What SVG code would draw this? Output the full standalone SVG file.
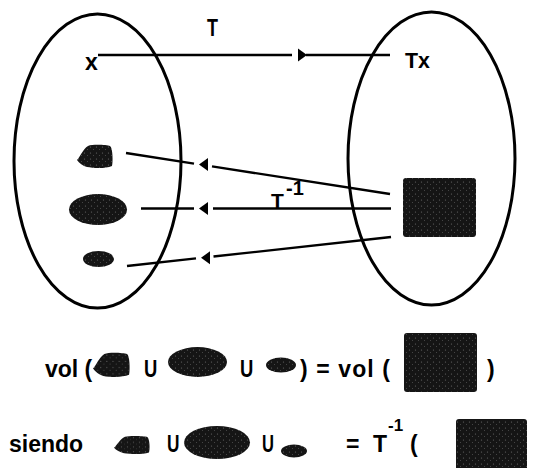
<svg xmlns="http://www.w3.org/2000/svg" xmlns:xlink="http://www.w3.org/1999/xlink" width="542" height="468" viewBox="0 0 542 468">
<style>
.set{fill:none;stroke:#000;stroke-width:3}
.ln{fill:none;stroke:#000;stroke-width:2.3}
.ah{fill:#000}
.t{font-family:"Liberation Sans",Arial,sans-serif;font-weight:bold;fill:#000}
.sh{fill:url(#speck)}
</style>
<defs>
<pattern id="speck" width="6" height="6" patternUnits="userSpaceOnUse">
<rect width="6" height="6" fill="#151515"/>
<circle cx="1.5" cy="2" r="0.6" fill="#6a6a6a"/>
<circle cx="4.5" cy="4.6" r="0.5" fill="#555"/>
</pattern>
<path id="blob" d="M11,1 C16,-1 30,0 33,1 C36,3 36,18 35,21 C28,24 16,23 10,22 C6,21 2,18 0,15 C3,12 6,4 11,1 Z"/>
</defs>
<rect width="542" height="468" fill="#fff"/>

<g id="setX"><ellipse class="set" cx="97.5" cy="161" rx="83.5" ry="147"/></g>
<g id="setY"><ellipse class="set" cx="431.5" cy="158.5" rx="83.5" ry="146.5"/></g>

<g id="label-x"><text class="t" x="85" y="70" font-size="23">x</text></g>
<g id="label-Tx"><text class="t" transform="translate(405,68) scale(0.93,1)" font-size="23">Tx</text></g>
<g id="label-T"><text class="t" transform="translate(207,36) scale(0.78,1)" font-size="23">T</text></g>
<g id="label-Tinv"><text class="t" x="271" y="208" font-size="21">T</text><text class="t" x="286" y="195" font-size="20">-1</text></g>

<g id="blob1"><use xlink:href="#blob" class="sh" transform="translate(77,145)"/></g>
<g id="blob2"><ellipse class="sh" cx="98" cy="209.5" rx="29" ry="15.5"/></g>
<g id="blob3"><ellipse class="sh" cx="98.5" cy="259" rx="15.5" ry="8"/></g>
<g id="square"><rect class="sh" x="403" y="178" width="73" height="59" rx="3"/></g>

<g id="connectors">
<line class="ln" x1="98" y1="55" x2="292" y2="55"/>
<polygon class="ah" points="298,48.5 307,55 298,61.5"/>
<line class="ln" x1="306" y1="55" x2="390" y2="55"/>

<line class="ln" x1="126" y1="153" x2="194" y2="163.6"/>
<polygon class="ah" points="199,164.5 208,158 208,171"/>
<line class="ln" x1="212" y1="166.4" x2="390" y2="194"/>

<line class="ln" x1="141" y1="208.5" x2="194" y2="208.5"/>
<polygon class="ah" points="199,208.5 208,202 208,215"/>
<line class="ln" x1="213" y1="208.5" x2="391" y2="208.5"/>

<line class="ln" x1="127" y1="266" x2="196" y2="258.4"/>
<polygon class="ah" points="201,257.8 210,251.3 210,264.3"/>
<line class="ln" x1="213.5" y1="256.5" x2="391" y2="237"/>
</g>

<g id="equation1">
<text class="t" x="45" y="377" font-size="23">vol (</text>
<use xlink:href="#blob" class="sh" transform="translate(93,353) scale(1.03,1.04)"/>
<text class="t" transform="translate(144,377) scale(0.8,1)" font-size="23">U</text>
<ellipse class="sh" cx="197.5" cy="362" rx="29.5" ry="15"/>
<text class="t" transform="translate(240,377) scale(0.8,1)" font-size="23">U</text>
<ellipse class="sh" cx="281" cy="365" rx="15" ry="7.5"/>
<text class="t" x="300" y="377" font-size="23" textLength="90" lengthAdjust="spacing">) = vol (</text>
<rect class="sh" x="404" y="333" width="73" height="59" rx="3"/>
<text class="t" x="487" y="377" font-size="23">)</text>
</g>

<g id="equation2">
<text class="t" x="9" y="452" font-size="23">siendo</text>
<use xlink:href="#blob" class="sh" transform="translate(114,436) scale(1,0.78)"/>
<text class="t" transform="translate(167,452) scale(0.75,1)" font-size="23">U</text>
<ellipse class="sh" cx="217" cy="442.5" rx="33" ry="16.5"/>
<text class="t" transform="translate(262,452) scale(0.72,1)" font-size="23">U</text>
<ellipse class="sh" cx="294" cy="451" rx="13" ry="6.5"/>
<text class="t" x="346" y="452" font-size="23">=</text>
<text class="t" x="373" y="452" font-size="23">T</text>
<text class="t" x="388" y="431" font-size="17">-1</text>
<text class="t" x="410" y="452" font-size="23">(</text>
<rect class="sh" x="456" y="419" width="71" height="55" rx="3"/>
</g>
</svg>
